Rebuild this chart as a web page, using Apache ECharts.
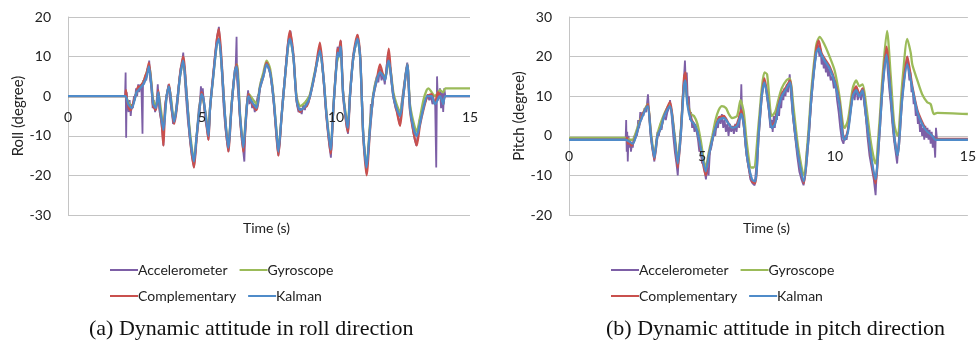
<!DOCTYPE html>
<html>
<head>
<meta charset="utf-8">
<title>Dynamic attitude</title>
<script src="https://cdn.jsdelivr.net/npm/echarts@6.0.0/dist/echarts.min.js"></script>
<style>
  html, body { margin: 0; padding: 0; background: #fff; }
  #chart { width: 979px; height: 342px; }
</style>
</head>
<body>
<div id="chart"></div>
<script>
// 图例名称和颜色
const seriesNames = ['Accelerometer', 'Gyroscope', 'Complementary', 'Kalman'];
const seriesColors = ['#7D5FA6', '#9BBB59', '#C9504D', '#4F8BC9'];

// 坐标轴刻度
const timeTicks = [0, 15, 5];        // min, max, interval
const rollTicks = [-30, 20, 10];
const pitchTicks = [-20, 30, 10];

// (a) Roll 方向数据 [时间 s, 角度 degree]
const rollAccel = [[0,0],[2.13,0],[2.15,6],[2.17,-10.5],[2.19,1],[2.22,-2],[2.26,-4],[2.30,-1],[2.34,-5],[2.38,-2],[2.42,-3],[2.46,0],[2.50,-1],[2.54,2],[2.58,0],[2.62,3],[2.66,1],[2.70,3],[2.74,2],[2.78,-9.5],[2.80,4],[2.84,3],[2.88,5],[2.92,4],[2.96,7],[3.00,6],[3.03,9],[3.07,4],[3.12,2],[3.16,-3],[3.20,-1],[3.25,-4],[3.30,-2],[3.35,3],[3.38,-1],[3.42,-4],[3.47,-6],[3.52,-9],[3.56,-12.5],[3.60,-6],[3.65,-1],[3.70,1],[3.75,3],[3.79,0],[3.83,-2],[3.88,-4],[3.92,-7],[3.96,-6],[4.00,-5],[4.05,-2],[4.10,1],[4.15,4],[4.20,7],[4.25,8],[4.30,11],[4.34,6],[4.40,0],[4.47,-6],[4.55,-11],[4.62,-15],[4.70,-18],[4.76,-14],[4.82,-8],[4.88,-3],[4.93,-1],[4.96,2.5],[5.00,-1],[5.03,2],[5.07,-2],[5.12,-6],[5.18,-8],[5.24,-11],[5.28,-6],[5.33,-1],[5.40,4],[5.48,10],[5.56,15],[5.63,17.5],[5.68,13],[5.73,7],[5.80,-2],[5.87,-8],[5.94,-12],[5.99,-14],[6.04,-8],[6.10,-3],[6.15,2],[6.20,5],[6.25,6],[6.29,15],[6.31,4],[6.36,0],[6.42,-6],[6.48,-10],[6.54,-14],[6.58,-16.5],[6.62,-8],[6.67,-2],[6.72,1.5],[6.77,-2],[6.82,0],[6.87,-3],[6.92,-2],[6.97,-4],[7.02,-2],[7.08,0],[7.14,1],[7.20,4],[7.26,5],[7.32,6],[7.38,8],[7.44,7.5],[7.50,7],[7.56,5],[7.62,2],[7.68,-2],[7.74,-7],[7.80,-12],[7.85,-15],[7.90,-12],[7.96,-6],[8.02,0],[8.08,4],[8.14,9],[8.20,13],[8.26,15.5],[8.30,16.5],[8.36,13],[8.42,9],[8.48,3],[8.54,-2],[8.60,-4],[8.66,-3],[8.72,-4.5],[8.78,-2],[8.84,-3.5],[8.90,-1],[8.96,-2],[9.03,0],[9.10,2],[9.16,4],[9.22,6],[9.28,8],[9.34,10],[9.40,12.5],[9.46,9],[9.52,5],[9.58,0],[9.64,-5],[9.70,-9],[9.76,-13],[9.81,-15.5],[9.86,-9],[9.91,-3],[9.96,3],[10.01,8],[10.06,12.5],[10.10,10],[10.14,13],[10.18,14],[10.23,6],[10.28,0],[10.34,-4],[10.40,-8],[10.45,-9.5],[10.50,-3],[10.56,3],[10.62,8],[10.68,11],[10.74,13],[10.80,15.5],[10.86,13],[10.92,8],[10.97,0],[11.02,-10],[11.08,-15],[11.14,-19.5],[11.20,-14],[11.26,-8],[11.30,-2],[11.34,-3.5],[11.39,0],[11.45,3],[11.52,5],[11.58,3.5],[11.64,7],[11.70,4],[11.76,5.5],[11.82,3],[11.88,7],[11.94,11],[11.98,9],[12.04,5],[12.10,2],[12.16,-1],[12.22,-3],[12.28,-4],[12.34,-6],[12.39,-7.5],[12.44,-2],[12.50,1],[12.56,4],[12.62,7],[12.66,8.5],[12.70,4],[12.76,-2],[12.82,-6],[12.88,-9],[12.94,-11],[13.00,-12.5],[13.06,-9],[13.12,-6],[13.18,-5],[13.24,-3],[13.30,-2],[13.36,-1],[13.42,0.5],[13.48,-1],[13.54,0],[13.60,-2],[13.66,-1],[13.70,-2],[13.74,-18],[13.77,5],[13.80,-1],[13.84,0],[13.88,2],[13.92,-3],[13.96,1],[14.00,-4],[14.04,2],[14.08,0],[15,0]];
const rollGyro = [[0,0],[2.13,0],[2.25,-1.5],[2.38,-2.5],[2.56,1],[2.81,3.5],[3.02,7.5],[3.18,-1],[3.28,-2.5],[3.37,1],[3.45,-2.5],[3.56,-7.5],[3.68,0],[3.77,2.5],[3.96,-6],[4.05,-3],[4.18,5],[4.30,9],[4.43,0],[4.55,-9],[4.70,-16],[4.80,-10],[4.93,-1.5],[4.98,0.5],[5.14,-4.5],[5.24,-9],[5.30,-3],[5.42,5],[5.55,13],[5.63,14.5],[5.73,8],[5.86,-5],[5.98,-12.5],[6.11,-1.5],[6.25,7],[6.31,8],[6.42,-4.5],[6.54,-12.5],[6.67,-2.5],[6.75,0.5],[6.92,-1],[7.04,-2],[7.16,2.5],[7.29,6],[7.41,9],[7.54,7],[7.66,0.5],[7.79,-9.5],[7.85,-13.5],[7.97,-5],[8.10,5],[8.22,13],[8.28,14.5],[8.41,10],[8.53,0],[8.66,-2.5],[8.78,-2],[8.91,-1],[9.03,0.5],[9.22,6.5],[9.40,11.5],[9.53,5],[9.65,-4.5],[9.80,-13],[9.90,-3],[10.02,8],[10.11,10.5],[10.17,12.5],[10.27,0.5],[10.44,-7],[10.52,0.5],[10.65,10],[10.80,14.5],[10.90,10],[10.96,0],[11.02,-10],[11.14,-17.5],[11.27,-7],[11.39,0.5],[11.52,4.5],[11.64,6],[11.77,5.5],[11.83,4.5],[11.97,8.5],[12.04,6.5],[12.14,1],[12.26,-2],[12.39,-4],[12.51,0.5],[12.66,8],[12.76,-2],[12.89,-6.5],[13.01,-9],[13.13,-5.5],[13.26,-1],[13.38,1.5],[13.45,2],[13.57,1],[13.69,0],[13.88,1.5],[14.00,1],[14.08,2],[15,2]];
const rollComp = [[0,0],[2.13,0],[2.16,1.5],[2.20,-1],[2.25,-2.5],[2.32,-3.5],[2.38,-3],[2.46,-1],[2.56,1],[2.62,2.5],[2.69,2],[2.75,3],[2.81,3.5],[2.88,5],[2.94,6],[3.02,8.5],[3.08,5],[3.12,2],[3.18,-2.5],[3.28,-3.5],[3.37,1.5],[3.43,-3.5],[3.50,-7],[3.56,-12.5],[3.62,-3],[3.68,0],[3.77,3],[3.87,-3.5],[3.96,-7],[4.05,-3.5],[4.18,5.5],[4.30,10],[4.43,0],[4.55,-10.5],[4.70,-18],[4.80,-10.5],[4.93,-2],[4.98,1],[5.05,-0.5],[5.14,-5.5],[5.24,-11],[5.30,-3],[5.42,5.5],[5.55,14],[5.63,17],[5.73,9],[5.86,-5.5],[5.98,-14],[6.11,-2],[6.23,6.5],[6.29,8],[6.42,-5.5],[6.54,-14],[6.67,-3],[6.73,0.5],[6.82,-1],[6.92,-2.5],[7.04,-3.5],[7.16,2],[7.29,5],[7.41,8.5],[7.54,6],[7.66,0],[7.79,-11],[7.85,-15],[7.97,-5],[8.10,5],[8.22,14],[8.28,16.5],[8.41,10.5],[8.53,-1],[8.66,-4],[8.78,-3],[8.91,-2.5],[9.03,0],[9.22,6],[9.40,13.5],[9.53,5],[9.65,-5.5],[9.80,-14.5],[9.90,-3],[10.02,8.5],[10.06,12],[10.11,10.5],[10.17,14],[10.27,0],[10.44,-9],[10.52,0],[10.65,10.5],[10.80,15.5],[10.90,10.5],[10.96,0],[11.02,-10.5],[11.14,-20],[11.27,-8.5],[11.39,0],[11.52,4],[11.64,8],[11.77,5],[11.83,4],[11.92,9],[11.97,12],[12.04,6.5],[12.14,0],[12.26,-3.5],[12.39,-7.5],[12.51,0],[12.66,8],[12.76,-3.5],[12.89,-9],[13.01,-12.5],[13.13,-7.5],[13.26,-3.5],[13.41,0],[13.57,0.5],[13.69,-2],[13.80,1],[13.88,0],[14.00,-2],[14.08,0],[15,0]];
const rollKalman = [[0,0],[2.13,0],[2.25,-2],[2.38,-3],[2.56,1],[2.69,2],[2.81,3],[2.94,5],[3.02,7.5],[3.12,2],[3.18,-2],[3.28,-3],[3.37,1],[3.43,-3],[3.56,-8.5],[3.68,0],[3.77,2.5],[3.87,-3],[3.96,-6.5],[4.05,-3],[4.18,5],[4.30,9],[4.43,0],[4.55,-10],[4.70,-16.5],[4.80,-10],[4.93,-2],[4.98,0.5],[5.05,-0.5],[5.14,-5],[5.24,-10],[5.30,-3],[5.42,5],[5.55,13],[5.63,14.5],[5.73,8],[5.86,-5],[5.98,-13],[6.11,-2],[6.23,6.5],[6.29,7.5],[6.42,-5],[6.54,-13],[6.67,-3],[6.73,0],[6.82,-1],[6.92,-2],[7.04,-3],[7.16,2],[7.29,5],[7.41,8],[7.54,6],[7.66,0],[7.79,-10],[7.85,-14],[7.97,-5],[8.10,5],[8.22,13],[8.28,14.5],[8.41,10],[8.53,-1],[8.66,-3.5],[8.78,-3],[8.91,-2],[9.03,0],[9.22,6],[9.40,11.5],[9.53,5],[9.65,-5],[9.80,-13.5],[9.90,-3],[10.02,8],[10.06,11],[10.11,10],[10.17,12.5],[10.27,0],[10.44,-8],[10.52,0],[10.65,10],[10.80,14.5],[10.90,10],[10.96,0],[11.02,-10],[11.14,-18],[11.27,-8],[11.39,0],[11.52,4],[11.64,6],[11.77,5],[11.83,4],[11.92,8],[11.97,9],[12.04,6],[12.14,0],[12.26,-3],[12.39,-5],[12.51,0],[12.66,8],[12.76,-3],[12.89,-8],[13.01,-10],[13.13,-7],[13.26,-3],[13.41,0],[13.57,0],[13.69,-2],[13.88,0],[14.00,-2],[14.08,0],[15,0]];

// (b) Pitch 方向数据 [时间 s, 角度 degree]
const pitchAccel = [[0,-1],[2.13,-1],[2.15,4],[2.17,-4],[2.19,1],[2.21,-6.5],[2.24,0],[2.27,-3],[2.30,-1],[2.33,-4],[2.37,-2],[2.40,-3],[2.44,0],[2.48,-1],[2.52,1],[2.56,0],[2.60,4],[2.64,2],[2.68,6],[2.72,4],[2.76,6],[2.80,5],[2.84,7],[2.90,6],[2.97,10.5],[3.02,5],[3.08,0],[3.14,-3],[3.21,-6.5],[3.27,-2],[3.33,1],[3.38,0],[3.43,3],[3.48,1.5],[3.53,4],[3.58,5],[3.64,4],[3.70,6],[3.76,7],[3.80,9],[3.86,5],[3.92,0],[3.98,-4],[4.04,-7],[4.09,-10],[4.14,-4],[4.20,1],[4.26,8],[4.31,13],[4.36,19],[4.40,12],[4.43,16],[4.47,8],[4.51,10],[4.55,4],[4.59,6],[4.63,2],[4.67,3.5],[4.72,1],[4.76,3],[4.80,1],[4.85,-1],[4.90,-4],[4.95,-3],[5.00,-7],[5.05,-6],[5.10,-9],[5.15,-11],[5.20,-8],[5.25,-10],[5.30,-4],[5.35,-3],[5.40,-1],[5.45,1],[5.50,0],[5.55,3],[5.60,2],[5.65,5],[5.70,3],[5.75,5.5],[5.80,2],[5.85,4],[5.90,1],[5.95,3],[6.00,0],[6.05,3],[6.10,1],[6.15,2.5],[6.20,0.5],[6.25,3],[6.30,1],[6.35,4],[6.40,2],[6.45,6],[6.48,13],[6.51,5],[6.56,3],[6.62,-1],[6.68,-5],[6.75,-8],[6.82,-11],[6.90,-12],[6.98,-12.5],[7.04,-8],[7.10,-2],[7.16,3],[7.22,8],[7.28,12],[7.34,14],[7.40,12],[7.46,9],[7.52,6],[7.57,2],[7.62,4],[7.66,1],[7.70,5],[7.74,2],[7.78,6],[7.82,4],[7.86,8],[7.90,5],[7.94,9],[7.98,7],[8.02,11],[8.06,9],[8.10,12],[8.14,10],[8.19,13],[8.24,11],[8.30,15.5],[8.35,10],[8.42,5],[8.50,0],[8.58,-5],[8.66,-9],[8.74,-11],[8.82,-12.5],[8.88,-10],[8.94,-4],[9.00,-1],[9.08,6],[9.16,13],[9.24,18],[9.30,21],[9.36,23],[9.42,20],[9.46,22],[9.50,18],[9.54,20],[9.58,17],[9.62,19],[9.66,16],[9.70,18],[9.74,15],[9.78,17],[9.84,14],[9.90,15],[9.96,12],[10.02,13],[10.08,9],[10.14,6],[10.20,2],[10.26,-1],[10.32,-2],[10.38,0],[10.44,-1],[10.50,2],[10.56,5],[10.62,8],[10.68,11],[10.74,9],[10.80,12.5],[10.86,9],[10.92,11],[10.98,9],[11.04,12],[11.10,8],[11.16,5],[11.22,0],[11.30,-5],[11.38,-8],[11.46,-11],[11.53,-15],[11.58,-8],[11.64,-1],[11.70,4],[11.78,11],[11.86,17],[11.94,21],[11.99,16],[12.04,12],[12.10,8],[12.16,3],[12.22,-1],[12.28,-4],[12.34,-7],[12.38,-3],[12.44,2],[12.50,7],[12.56,12],[12.62,15],[12.68,18],[12.72,20],[12.76,17],[12.80,14],[12.84,16],[12.88,11],[12.92,12],[12.96,8],[13.00,9],[13.04,5],[13.08,7],[13.12,3],[13.16,5],[13.20,1],[13.24,3],[13.28,0],[13.32,2],[13.36,-1],[13.40,2.5],[13.44,-0.5],[13.48,2],[13.52,-1],[13.56,1.5],[13.60,-2],[13.64,1],[13.68,-3],[13.72,0],[13.77,-5.5],[13.80,2],[13.84,-1],[15,-1]];
const pitchGyro = [[0,-0.5],[2.13,-0.5],[2.28,-1],[2.40,-1],[2.52,1],[2.65,3.5],[2.77,5.5],[2.95,8],[3.08,1],[3.21,-5],[3.33,0.5],[3.58,5.5],[3.79,8],[3.96,1],[4.09,-6],[4.20,1],[4.35,14],[4.45,9],[4.58,5.5],[4.70,5],[4.83,3],[4.95,-1],[5.14,-8],[5.26,-4],[5.39,0],[5.51,4],[5.63,6.5],[5.75,7.5],[5.90,7],[6.01,5.5],[6.13,4.5],[6.32,5],[6.45,9],[6.57,6],[6.69,-2],[6.85,-8],[6.95,-8],[7.13,3],[7.25,12],[7.35,16],[7.45,15.5],[7.62,5],[7.75,6],[7.87,9],[8.00,12],[8.18,14],[8.31,14.5],[8.43,8],[8.62,-3],[8.83,-10],[8.99,0],[9.12,12],[9.30,23],[9.43,25],[9.61,23],[9.80,20],[9.99,16.5],[10.17,10],[10.30,3],[10.36,2],[10.49,4],[10.67,12],[10.80,14],[10.92,12.5],[11.04,13],[11.17,8],[11.36,-2],[11.52,-7],[11.67,3],[11.79,15],[11.96,26.5],[12.10,15],[12.23,3],[12.35,0],[12.54,14],[12.72,24.5],[12.85,21],[12.91,18],[13.10,14],[13.28,10.5],[13.47,8.5],[13.60,8],[13.72,5.5],[13.85,5.8],[15,5.5]];
const pitchComp = [[0,-1],[2.13,-1],[2.18,-0.5],[2.22,-2],[2.28,-1.5],[2.34,-2.5],[2.40,-2],[2.52,0],[2.65,3],[2.77,5.5],[2.90,7],[2.97,8],[3.08,0],[3.21,-6],[3.33,0],[3.46,2],[3.58,5],[3.79,8.5],[3.96,0],[4.09,-8],[4.20,0],[4.33,15],[4.38,16],[4.45,9],[4.58,4.5],[4.70,3],[4.83,1],[4.95,-3.5],[5.14,-10],[5.26,-5],[5.39,-1],[5.51,2],[5.63,4.5],[5.82,5],[6.01,3],[6.13,2],[6.32,3],[6.48,6.5],[6.57,3],[6.69,-5],[6.88,-11.5],[7.00,-12],[7.13,0],[7.25,10],[7.35,14.5],[7.50,8],[7.62,2.5],[7.75,3.5],[7.87,7.5],[8.00,10.5],[8.18,12.5],[8.31,14],[8.43,5],[8.62,-5],[8.83,-12],[8.99,-2],[9.12,10],[9.30,22],[9.39,24],[9.49,21],[9.61,19.5],[9.80,17.5],[9.99,14],[10.17,8.5],[10.30,0.5],[10.36,-1],[10.49,1.5],[10.67,10.5],[10.80,12.5],[10.92,10.5],[11.04,12],[11.17,5],[11.36,-5.5],[11.52,-12],[11.67,0],[11.79,12.5],[11.94,22.5],[12.10,10],[12.23,0],[12.35,-5],[12.54,10.5],[12.72,20],[12.91,12.5],[13.10,6.5],[13.28,3.5],[13.47,1],[13.66,0],[13.78,-0.8],[15,-0.8]];
const pitchKalman = [[0,-1],[2.13,-1],[2.28,-1.5],[2.40,-2],[2.52,0],[2.65,3],[2.77,5],[2.90,7],[2.97,7.5],[3.08,0],[3.21,-5.5],[3.33,0],[3.46,2],[3.58,5],[3.79,7.5],[3.96,0],[4.09,-7],[4.20,0],[4.33,13],[4.38,14],[4.45,8],[4.58,4],[4.70,3],[4.83,1],[4.95,-3],[5.14,-9],[5.26,-5],[5.39,-1],[5.51,2],[5.63,4],[5.82,4.5],[6.01,3],[6.13,2],[6.32,2.5],[6.48,5.5],[6.57,3],[6.69,-5],[6.88,-11],[7.00,-11.5],[7.13,0],[7.25,10],[7.35,13.5],[7.50,8],[7.62,2],[7.75,3],[7.87,7],[8.00,10],[8.18,12],[8.31,13.5],[8.43,5],[8.62,-5],[8.83,-11.5],[8.99,-2],[9.12,10],[9.30,21],[9.39,22],[9.49,20.5],[9.61,19],[9.80,17],[9.99,13.5],[10.17,8],[10.30,0],[10.36,-1],[10.49,1],[10.67,10],[10.80,11.5],[10.92,10],[11.04,11.5],[11.17,5],[11.36,-5],[11.52,-11],[11.67,0],[11.79,12],[11.94,20.5],[12.10,10],[12.23,0],[12.35,-5],[12.54,10],[12.72,18],[12.91,12],[13.10,6],[13.28,3],[13.47,1],[13.66,0],[13.78,-1],[15,-1]];

const labelFont = 'Lato, "Liberation Sans", sans-serif';
const captionFont = '"Liberation Serif", serif';
const gridHeight = 198;

// 生成一个图的四条折线
function buildSeries(dataList, axisIndex) {
  return dataList.map(function(data, i) {
    return {
      name: seriesNames[i],
      type: 'line',
      xAxisIndex: axisIndex,
      yAxisIndex: axisIndex,
      data: data,
      symbol: 'none',
      smooth: i === 0 ? false : 0.25,
      silent: true,
      animation: false,
      lineStyle: { width: i === 0 ? 1.8 : 2.3, color: seriesColors[i] },
      itemStyle: { color: seriesColors[i] }
    };
  });
}

// x 轴画在 y=0 处：onZero 在这里不起作用，所以用 offset 把轴从底边往上移
// 零线本身由 y 轴的分隔线画出，x 轴只负责刻度数字（放在折线上层）
function buildXAxis(gridIndex, yTicks) {
  const zeroShift = (0 - yTicks[0]) / (yTicks[1] - yTicks[0]) * gridHeight;
  return {
    type: 'value',
    gridIndex: gridIndex,
    position: 'bottom',
    offset: -zeroShift,
    z: 10,
    min: timeTicks[0],
    max: timeTicks[1],
    interval: timeTicks[2],
    axisLine: { show: false, onZero: false },
    axisTick: { show: false },
    splitLine: { show: false },
    axisLabel: { color: '#222', fontSize: 14, fontFamily: labelFont, margin: 14 }
  };
}

function buildYAxis(gridIndex, ticks, name) {
  return {
    type: 'value',
    gridIndex: gridIndex,
    min: ticks[0],
    max: ticks[1],
    interval: ticks[2],
    name: name,
    nameLocation: 'middle',
    nameRotate: 90,
    nameGap: 40,
    nameTextStyle: { color: '#222', fontSize: 15, fontFamily: labelFont },
    axisLine: { show: true, onZero: false, lineStyle: { color: '#c4c4c4', width: 1 } },
    axisTick: { show: false },
    splitLine: { show: true, lineStyle: { color: '#c4c4c4', width: 1 } },
    axisLabel: { color: '#222', fontSize: 14, fontFamily: labelFont, margin: 17 }
  };
}

function buildLegend(left) {
  return {
    left: left,
    top: 258,
    width: 255,
    itemWidth: 28,
    itemHeight: 12,
    itemGap: 12,
    icon: 'path://M0,0 L28,0 L28,2 L0,2 Z',
    textStyle: { color: '#222', fontSize: 14, fontFamily: labelFont, padding: [0, 0, 0, -5] },
    data: seriesNames.map(function(n, i) { return { name: n, itemStyle: { color: seriesColors[i] } }; }),
    selectedMode: false
  };
}

const chartDom = document.getElementById('chart');
const myChart = echarts.init(chartDom, null, { renderer: 'canvas' });

const option = {
  backgroundColor: '#fff',
  animation: false,
  grid: [
    { left: 68, top: 17, width: 402, height: gridHeight },
    { left: 569, top: 17, width: 402, height: gridHeight }
  ],
  xAxis: [buildXAxis(0, rollTicks), buildXAxis(1, pitchTicks)],
  yAxis: [buildYAxis(0, rollTicks, 'Roll (degree)'), buildYAxis(1, pitchTicks, 'Pitch (degree)')],
  legend: [buildLegend(105), buildLegend(606)],
  series: buildSeries([rollAccel, rollGyro, rollComp, rollKalman], 0)
    .concat(buildSeries([pitchAccel, pitchGyro, pitchComp, pitchKalman], 1)),
  graphic: [
    { type: 'text', left: 243, top: 221, style: { text: 'Time (s)', font: '14px ' + labelFont, fill: '#222' } },
    { type: 'text', left: 743, top: 221, style: { text: 'Time (s)', font: '14px ' + labelFont, fill: '#222' } },
    { type: 'text', left: 89, top: 318, style: { text: '(a) Dynamic attitude in roll direction', font: '22px ' + captionFont, fill: '#111' } },
    { type: 'text', left: 606, top: 318, style: { text: '(b) Dynamic attitude in pitch direction', font: '22px ' + captionFont, fill: '#111' } }
  ]
};

myChart.setOption(option);
console.log('chart rendered');
</script>
</body>
</html>
